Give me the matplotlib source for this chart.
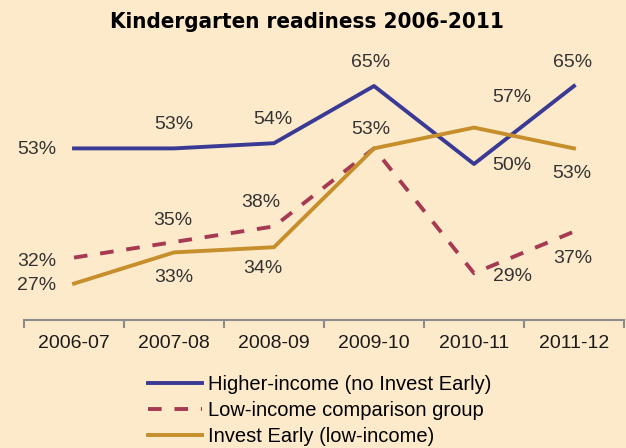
import matplotlib.pyplot as plt
from matplotlib.ticker import FixedLocator

# data
years = ['2006-07', '2007-08', '2008-09', '2009-10', '2010-11', '2011-12']
higher_income = [53, 53, 54, 65, 50, 65]
low_income = [32, 35, 38, 53, 29, 37]
invest_early = [27, 33, 34, 53, 57, 53]

# label offsets (pixels) for each point, None = no label
off_higher = [(-37, -1), (0, 24), (-1, 24), (-3, 24), (38, -1), (-1, 24)]
off_low = [(-37, -4), (-1, 22), (-13, 24), (-3, 19), (38, -3), (-1, -27)]
off_invest = [(-37, -2), (0, -25), (-11, -21), None, (38, 30), (-2, -25)]

bg = '#FDEACB'
blue = '#3A3A95'
red = '#A63A52'
gold = '#C68F2B'

plt.rcParams['font.family'] = ['Liberation Sans', 'DejaVu Sans']

fig = plt.figure(figsize=(6.26, 4.48), dpi=100, facecolor=bg)
ax = fig.add_axes([24/626, 1 - 320/448, 600/626, 260/448])
ax.set_facecolor(bg)

x = list(range(len(years)))
ax.plot(x, higher_income, color=blue, linewidth=2.8, label='Higher-income (no Invest Early)')
ax.plot(x, low_income, color=red, linewidth=2.8, dashes=(3.5, 3.3), label='Low-income comparison group')
ax.plot(x, invest_early, color=gold, linewidth=2.8, label='Invest Early (low-income)')

for vals, offs in [(higher_income, off_higher), (low_income, off_low), (invest_early, off_invest)]:
    for i, (v, o) in enumerate(zip(vals, offs)):
        if o is None:
            continue
        ax.annotate(f'{v}%', (i, v), xytext=o, textcoords='offset pixels',
                    ha='center', va='center', fontsize=14, color='#333333')

ax.set_xlim(-0.5, 5.5)
ax.set_ylim(20, 70)
ax.set_yticks([])
ax.set_xticks(x)
ax.set_xticklabels(years, fontsize=14, color='#1a1a1a')
ax.tick_params(axis='x', which='major', length=0, pad=11)
ax.xaxis.set_minor_locator(FixedLocator([i - 0.5 for i in range(len(years) + 1)]))
ax.tick_params(axis='x', which='minor', length=6, width=1.5, color='#8C8C8C', direction='out')
for s in ['top', 'right', 'left']:
    ax.spines[s].set_visible(False)
ax.spines['bottom'].set_color('#8C8C8C')
ax.spines['bottom'].set_linewidth(1.5)

fig.text(0.491, 0.950, 'Kindergarten readiness 2006-2011', ha='center', va='center',
         fontsize=16, fontweight='bold', fontstretch='condensed',
         family=['Liberation Sans Narrow', 'DejaVu Sans'])

fig.legend(loc='upper left', bbox_to_anchor=(140/626, 1 - 367/448), frameon=False,
           fontsize=14.5, handlelength=2.7, handletextpad=0.3, labelspacing=0.35,
           borderaxespad=0)

fig.savefig('out.png', dpi=100, facecolor=bg)
